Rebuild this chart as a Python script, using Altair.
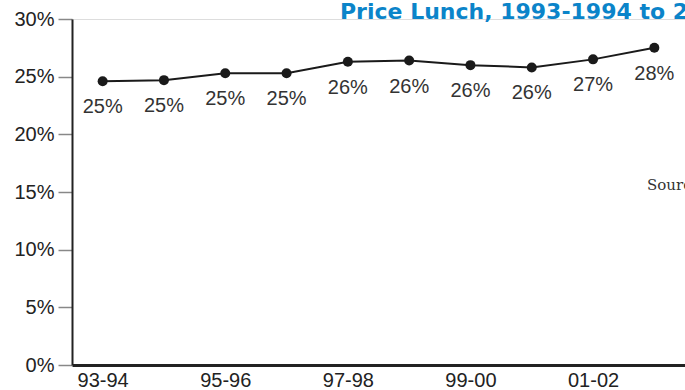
import altair as alt
import pandas as pd

years = ["93-94", "94-95", "95-96", "96-97", "97-98", "98-99", "99-00", "00-01", "01-02", "02-03"]
values = [24.6, 24.7, 25.3, 25.3, 26.3, 26.4, 26.0, 25.8, 26.5, 27.5]
labels = ["25%", "25%", "25%", "25%", "26%", "26%", "26%", "26%", "27%", "28%"]
axis_years = ["93-94", "95-96", "97-98", "99-00", "01-02"]
title_text = "Price Lunch, 1993-1994 to 2003-2004"
source_text = "Source:"

df = pd.DataFrame({"year": years, "value": values, "label": labels})

x = alt.X(
    "year:N",
    sort=years,
    scale=alt.Scale(type="point", padding=0.5),
    axis=alt.Axis(
        title=None,
        values=axis_years,
        labelAngle=0,
        labelFont="Liberation Sans",
        labelFontSize=20,
        labelColor="#222",
        labelPadding=5,
        ticks=False,
        domainColor="#222",
        domainWidth=3,
        grid=False,
    ),
)
y = alt.Y(
    "value:Q",
    scale=alt.Scale(domain=[0, 30], nice=False, zero=True),
    axis=alt.Axis(
        title=None,
        values=[0, 5, 10, 15, 20, 25, 30],
        labelExpr="datum.value + '%'",
        labelFont="Liberation Sans",
        labelFontSize=20,
        labelColor="#222",
        labelPadding=4,
        tickSize=14,
        tickColor="#888",
        tickWidth=1.5,
        domainColor="#222",
        domainWidth=2,
        grid=False,
    ),
)

base = alt.Chart(df)
line = base.mark_line(color="#1a1a1a", strokeWidth=2).encode(x=x, y=y)
points = base.mark_point(filled=True, opacity=1, color="#1a1a1a", size=100, shape="circle").encode(x=x, y=y)
text = base.mark_text(dy=26, fontSize=20, font="Liberation Sans", color="#333").encode(
    x=x, y=y, text="label:N"
)

title = alt.Chart(pd.DataFrame({"t": [title_text]})).mark_text(
    align="left", baseline="alphabetic", font="DejaVu Sans", fontWeight="bold", fontSize=22, color="#0b84c9"
).encode(x=alt.value(268), y=alt.value(0), text="t:N")

source = alt.Chart(pd.DataFrame({"t": [source_text]})).mark_text(
    align="left", baseline="middle", font="DejaVu Serif", fontSize=15, color="#333"
).encode(x=alt.value(575), y=alt.value(166), text="t:N")

chart = (
    alt.layer(line, points, text, title, source)
    .properties(
        width=613,
        height=346,
        autosize=alt.AutoSizeParams(type="none"),
        padding={"left": 72, "top": 19, "right": 0, "bottom": 25},
    )
    .configure_view(stroke=None)
    .configure(background="white")
)

chart.save("out.html", embed_options={"renderer": "svg", "actions": False})
